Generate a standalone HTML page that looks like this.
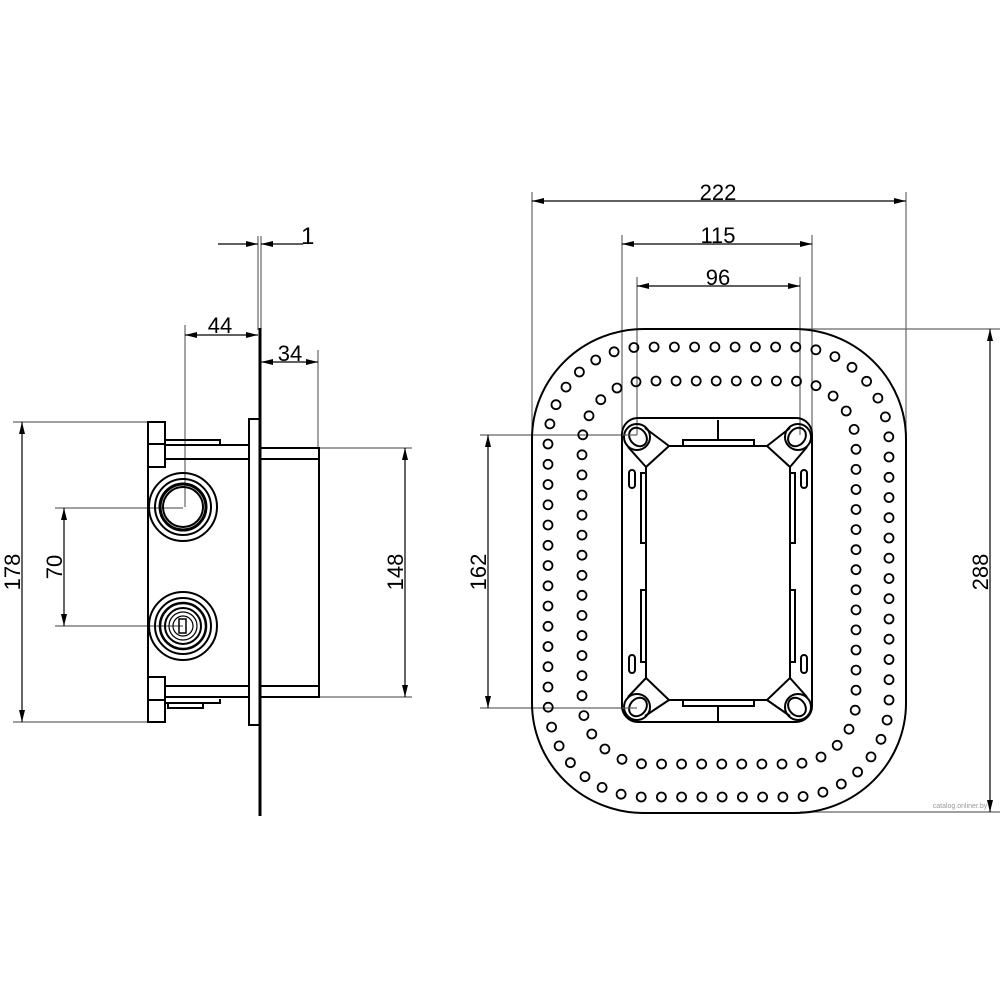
<!DOCTYPE html>
<html><head><meta charset="utf-8"><style>html,body{margin:0;padding:0;background:#fff}svg{display:block}</style></head>
<body>
<svg id="s" width="1000" height="1000" viewBox="0 0 1000 1000" xmlns="http://www.w3.org/2000/svg">
<defs>
<marker id="a" viewBox="0 0 12 6" refX="12" refY="3" markerWidth="12" markerHeight="6" markerUnits="userSpaceOnUse" orient="auto-start-reverse"><path d="M0,0 L12,3 L0,6 z" fill="#000"/></marker>
</defs>
<g font-family="Liberation Sans, sans-serif" font-size="22" fill="#000" text-anchor="middle">
<g stroke="#666" stroke-width="1.2" fill="none">
<line x1="13" y1="422" x2="148" y2="422"/><line x1="13" y1="722" x2="148" y2="722"/>
<line x1="55" y1="508" x2="183" y2="508"/><line x1="55" y1="626" x2="183" y2="626"/>
<line x1="185" y1="325" x2="185" y2="507"/>
<line x1="258" y1="236" x2="258" y2="330"/><line x1="261" y1="236" x2="261" y2="330"/>
<line x1="318" y1="350" x2="318" y2="448"/>
<line x1="319" y1="448" x2="412" y2="448"/><line x1="319" y1="697" x2="412" y2="697"/>
<line x1="532" y1="192" x2="532" y2="440"/><line x1="906" y1="192" x2="906" y2="440"/>
<line x1="622" y1="235" x2="622" y2="430"/><line x1="812" y1="235" x2="812" y2="430"/>
<line x1="637" y1="277" x2="637" y2="435"/><line x1="800" y1="277" x2="800" y2="435"/>
<line x1="480" y1="435" x2="637" y2="435"/><line x1="480" y1="708" x2="637" y2="708"/>
<line x1="800" y1="329" x2="1000" y2="329"/><line x1="800" y1="812" x2="1000" y2="812"/>
</g>
<g stroke="#000" stroke-width="1.2" fill="none">
<line x1="22" y1="422" x2="22" y2="722" marker-start="url(#a)" marker-end="url(#a)"/>
<line x1="64" y1="508" x2="64" y2="626" marker-start="url(#a)" marker-end="url(#a)"/>
<line x1="185" y1="335" x2="258" y2="335" marker-start="url(#a)" marker-end="url(#a)"/>
<line x1="218" y1="244" x2="258" y2="244" marker-end="url(#a)"/>
<line x1="303" y1="244" x2="261" y2="244" marker-end="url(#a)"/>
<line x1="261" y1="362" x2="318" y2="362" marker-start="url(#a)" marker-end="url(#a)"/>
<line x1="405" y1="448" x2="405" y2="697" marker-start="url(#a)" marker-end="url(#a)"/>
<line x1="532" y1="201" x2="906" y2="201" marker-start="url(#a)" marker-end="url(#a)"/>
<line x1="622" y1="244" x2="812" y2="244" marker-start="url(#a)" marker-end="url(#a)"/>
<line x1="637" y1="286" x2="800" y2="286" marker-start="url(#a)" marker-end="url(#a)"/>
<line x1="488" y1="435" x2="488" y2="708" marker-start="url(#a)" marker-end="url(#a)"/>
<line x1="990" y1="329" x2="990" y2="812" marker-start="url(#a)" marker-end="url(#a)"/>
</g>
<text x="220" y="333">44</text>
<text x="301" y="244" text-anchor="start" font-size="24">1</text>
<text x="290" y="361">34</text>
<text x="718" y="200">222</text>
<text x="718" y="243">115</text>
<text x="718" y="285">96</text>
<text transform="translate(20,572) rotate(-90)">178</text>
<text transform="translate(62,567) rotate(-90)">70</text>
<text transform="translate(403,572) rotate(-90)">148</text>
<text transform="translate(486,572) rotate(-90)">162</text>
<text transform="translate(988,572) rotate(-90)">288</text>
<text x="960" y="808" font-size="7" fill="#999">catalog.onliner.by</text>
</g>

<g stroke="#000" stroke-width="2" fill="none">
<line x1="260" y1="328" x2="260" y2="816" stroke-width="3"/>
<rect x="249" y="419" width="11" height="306"/>
<rect x="260" y="448" width="59" height="249"/>
<line x1="260" y1="459" x2="319" y2="459"/><line x1="260" y1="686" x2="319" y2="686"/>
<line x1="148" y1="422" x2="148" y2="722"/>
<rect x="148" y="422" width="17" height="45"/><rect x="148" y="677" width="17" height="45"/>
<line x1="148" y1="444" x2="165" y2="444"/><line x1="148" y1="700" x2="165" y2="700"/>
<polyline points="165,440 220,440 220,444"/>
<line x1="165" y1="445" x2="249" y2="445"/><line x1="165" y1="459" x2="249" y2="459"/>
<line x1="165" y1="686" x2="249" y2="686"/><line x1="165" y1="697" x2="249" y2="697"/>
<polyline points="165,703 220,703 220,699"/>
<rect x="168" y="703" width="35" height="5"/>
<circle cx="183" cy="507" r="34"/><circle cx="183" cy="507" r="28"/><circle cx="183" cy="507" r="23" stroke-width="3"/><circle cx="183" cy="507" r="20"/>
<circle cx="183" cy="626" r="34"/><circle cx="183" cy="626" r="28"/><circle cx="183" cy="626" r="23" stroke-width="2.5"/><circle cx="183" cy="626" r="18"/><circle cx="183" cy="626" r="14" stroke-width="1.2"/><circle cx="183" cy="626" r="10" stroke-width="1.2"/>
<rect x="179" y="619" width="7" height="14" stroke-width="1.5"/>
</g>

<g stroke="#000" stroke-width="2" fill="none" id="fv">
<rect x="532" y="329" width="374" height="484" rx="112" ry="110"/>
<rect x="622" y="418" width="190" height="304" rx="16"/>
<polygon points="669,446 767,446 790,467 790,678 767,700 669,700 646,678 646,467"/>
<line x1="645" y1="428" x2="669" y2="446"/><line x1="628" y1="447" x2="646" y2="467"/>
<line x1="790" y1="428" x2="767" y2="446"/><line x1="807" y1="447" x2="790" y2="467"/>
<line x1="645" y1="716" x2="669" y2="700"/><line x1="628" y1="697" x2="646" y2="678"/>
<line x1="790" y1="716" x2="767" y2="700"/><line x1="807" y1="697" x2="790" y2="678"/>
<circle cx="637" cy="437" r="13"/><circle cx="798" cy="437" r="13"/><circle cx="637" cy="707" r="13"/><circle cx="798" cy="707" r="13"/>
<ellipse cx="638" cy="437" rx="8" ry="10" transform="rotate(-40 638 437)"/><ellipse cx="797" cy="437" rx="8" ry="10" transform="rotate(40 797 437)"/>
<ellipse cx="638" cy="707" rx="8" ry="10" transform="rotate(40 638 707)"/><ellipse cx="797" cy="707" rx="8" ry="10" transform="rotate(-40 797 707)"/>
<rect x="683" y="440" width="71" height="6"/><line x1="718" y1="420" x2="718" y2="440"/>
<rect x="683" y="700" width="71" height="6"/><line x1="718" y1="706" x2="718" y2="722"/>
<rect x="629" y="470" width="6" height="18" rx="3"/><rect x="629" y="655" width="6" height="18" rx="3"/>
<rect x="801" y="470" width="6" height="18" rx="3"/><rect x="801" y="655" width="6" height="18" rx="3"/>
<rect x="641" y="473" width="5" height="70"/><rect x="641" y="590" width="5" height="72"/>
<rect x="790" y="473" width="5" height="70"/><rect x="790" y="590" width="5" height="72"/>
<line x1="622" y1="435" x2="637" y2="435" stroke="#666" stroke-width="1"/>
<line x1="622" y1="708" x2="637" y2="708" stroke="#666" stroke-width="1"/>
</g>
<g id="dots" stroke="#000" stroke-width="1.8" fill="none"></g>
</svg>
<script>
(function(){
var g=document.getElementById('dots');
function ring(x0,y0,x1,y1,r,sp){
 var w=x1-x0-2*r,h=y1-y0-2*r,arc=Math.PI*r/2;
 var segs=[['l',x0+r,y0,w,0],['a',x1-r,y0+r,-Math.PI/2],['l',x1,y0+r,0,h],['a',x1-r,y1-r,0],['l',x1-r,y1,-w,0],['a',x0+r,y1-r,Math.PI/2],['l',x0,y1-r,0,-h],['a',x0+r,y0+r,Math.PI]];
 var total=2*w+2*h+4*arc,n=Math.round(total/sp),step=total/n;
 for(var i=0;i<n;i++){
  var d=i*step+step/2,px,py;
  for(var k=0;k<8;k++){var s=segs[k];var L=s[0]=='l'?Math.abs(s[3]+s[4]):arc;
   if(d<=L){ if(s[0]=='l'){var f=L?d/L:0;px=s[1]+s[3]*f;py=s[2]+s[4]*f;} else {var t=s[3]+d/r;px=s[1]+r*Math.cos(t);py=s[2]+r*Math.sin(t);} break;}
   d-=L;}
  var c=document.createElementNS('http://www.w3.org/2000/svg','circle');
  c.setAttribute('cx',px.toFixed(1));c.setAttribute('cy',py.toFixed(1));c.setAttribute('r','4.5');g.appendChild(c);
 }
}
ring(548,347,889,797,96,20.2);
ring(582,381,856,764,64,20.2);
})();
</script>
</body></html>
